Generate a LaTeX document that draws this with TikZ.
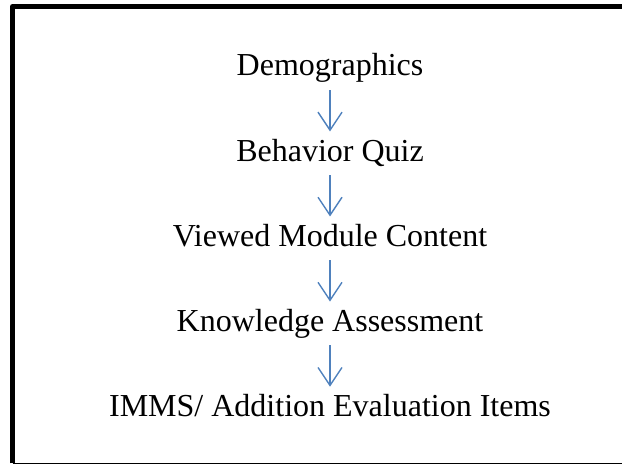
\documentclass[tikz,border=0pt]{standalone}
\usepackage{fontspec}
\setmainfont{Liberation Serif}
\usetikzlibrary{positioning,arrows.meta}
\definecolor{flowblue}{HTML}{4F81BD}
\tikzset{
% Steps of the survey and the arrows between them
step text/.style={inner xsep=0pt,inner ysep=7pt,text height=22.5pt,text depth=7pt,
  font=\fontsize{32}{38}\selectfont},
step arrow/.style={draw=flowblue,line width=1.4pt,
  -{Straight Barb[length=18pt,width=24pt,line width=1.4pt]}}
}

\begin{document}
\begin{tikzpicture}[x=1pt,y=1pt,node distance=41.2pt]
      \useasboundingbox (0,0) rectangle (622,-465);
      \clip (0,0) rectangle (622,-465);
      % Frame: heavy on the left and top, thin along the bottom
      \draw[line width=5pt,line join=round] (12.5,-463.3) -- (12.5,-6.5) -- (640,-6.5);
      \draw[line width=1.1pt] (12.5,-463.3) -- (640,-463.3);
      % The steps, one under the other
      \node(demo)[step text,anchor=base] at (330,-76) {Demographics};
      \node(quiz)[step text,below=of demo] {Behavior Quiz};
      \node(content)[step text,below=of quiz] {Viewed Module Content};
      \node(assess)[step text,below=of content] {Knowledge Assessment};
      \node(imms)[step text,below=of assess] {IMMS/ Addition Evaluation Items};
      % Arrows
      \draw[step arrow] (demo) -- (quiz);
      \draw[step arrow] (quiz) -- (content);
      \draw[step arrow] (content) -- (assess);
      \draw[step arrow] (assess) -- (imms);
    \end{tikzpicture}
\end{document}
